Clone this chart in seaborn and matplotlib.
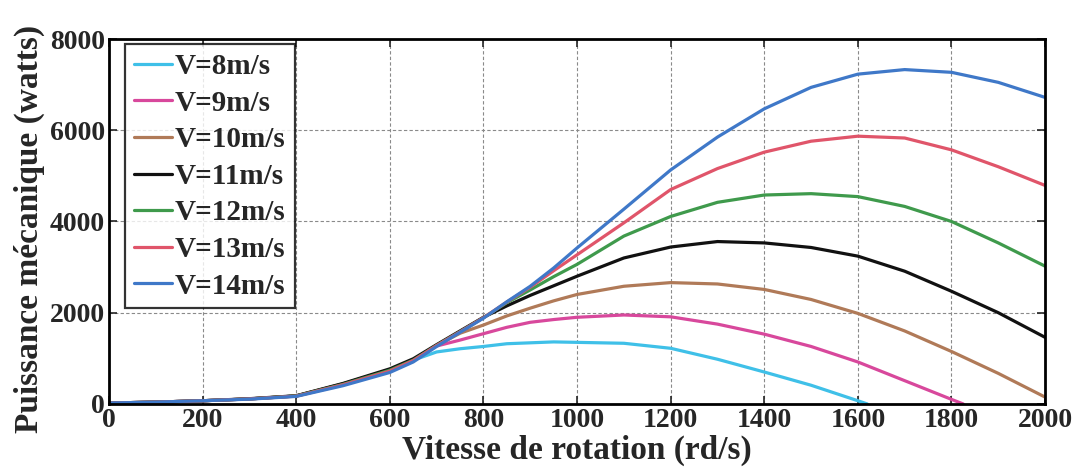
import numpy as np
import pandas as pd
import matplotlib
matplotlib.use("Agg")
import matplotlib.pyplot as plt
import seaborn as sns

# Rotor speed samples (rd/s); denser through the knee of the curves
speed = [0, 100, 200, 300, 400, 500, 600, 650, 700, 750, 800, 850, 900, 950,
         1000, 1100, 1200, 1300, 1400, 1500, 1600, 1700, 1800, 1900, 2000]

# Mechanical power (W) for each wind speed
p_v8 = [20, 40, 70, 110, 175, 430, 750, 960, 1140, 1210, 1260, 1320, 1340,
        1360, 1350, 1330, 1220, 980, 700, 410, 70, 0]
speed_v8 = speed[:21] + [1620]

p_v9 = [20, 40, 70, 110, 175, 440, 750, 970, 1270, 1400, 1540, 1680, 1790,
        1850, 1900, 1950, 1910, 1750, 1530, 1260, 920, 510, 100, 0]
speed_v9 = speed[:23] + [1825]

p_v10 = [20, 40, 70, 110, 175, 440, 750, 970, 1280, 1550, 1730, 1930, 2100,
         2260, 2400, 2580, 2660, 2630, 2510, 2290, 1985, 1600, 1150, 670, 150]
p_v11 = [20, 40, 70, 115, 180, 450, 770, 990, 1300, 1600, 1900, 2150, 2380,
         2590, 2800, 3200, 3440, 3560, 3530, 3430, 3240, 2910, 2470, 2000, 1460]
p_v12 = [20, 40, 70, 110, 175, 430, 740, 960, 1285, 1585, 1890, 2220, 2500,
         2790, 3060, 3680, 4110, 4420, 4580, 4610, 4545, 4330, 4000, 3530, 3020]
p_v13 = [20, 40, 70, 110, 170, 420, 720, 950, 1280, 1580, 1890, 2235, 2560,
         2920, 3270, 3970, 4700, 5160, 5520, 5760, 5870, 5830, 5570, 5200, 4790]
p_v14 = [20, 40, 70, 105, 165, 400, 690, 920, 1260, 1570, 1880, 2240, 2580,
         2980, 3420, 4270, 5130, 5850, 6470, 6940, 7230, 7330, 7270, 7050, 6720]

labels = ["V=8m/s", "V=9m/s", "V=10m/s", "V=11m/s",
          "V=12m/s", "V=13m/s", "V=14m/s"]
colors = ["#3fc0e8", "#d8489c", "#b07a58", "#111111",
          "#3f9a4c", "#e0556a", "#3f78c8"]

series = [(speed_v8, p_v8), (speed_v9, p_v9), (speed, p_v10), (speed, p_v11),
          (speed, p_v12), (speed, p_v13), (speed, p_v14)]

frames = []
for lab, (xs, ys) in zip(labels, series):
    frames.append(pd.DataFrame({"speed": xs, "power": ys, "curve": lab}))
df = pd.concat(frames, ignore_index=True)

sns.set_style("ticks")
plt.rcParams["font.family"] = ["Liberation Serif", "DejaVu Serif"]
plt.rcParams["font.weight"] = "bold"

fig = plt.figure(figsize=(10.73, 4.73), dpi=100)
ax = fig.add_axes([0.1016, 0.146, 0.8724, 0.7715])

sns.lineplot(data=df, x="speed", y="power", hue="curve", hue_order=labels,
             palette=colors, linewidth=2.3, ax=ax, sort=False,
             estimator=None, legend=True)

ax.set_xlim(0, 2000)
ax.set_ylim(0, 8000)
ax.set_xticks(np.arange(0, 2001, 200))
ax.set_yticks(np.arange(0, 8001, 2000))
ax.grid(True, color="#8a8a8a", linestyle=(0, (3, 2)), linewidth=0.8)
ax.tick_params(direction="in", top=True, right=True, length=6, width=1.2,
               labelsize=20)
ax.tick_params(axis="x", pad=3)
ax.tick_params(axis="y", pad=3)
for lbl in ax.get_xticklabels() + ax.get_yticklabels():
    lbl.set_fontweight("bold")
for sp in ax.spines.values():
    sp.set_linewidth(2.0)
    sp.set_color("black")

ax.set_xlabel("Vitesse de rotation (rd/s)", fontsize=24, fontweight="bold")
ax.xaxis.set_label_coords(0.5, -0.085)
ax.xaxis.label.set_va("top")
ax.set_ylabel("Puissance mécanique (watts)", fontsize=24, fontweight="bold")
ax.yaxis.set_label_coords(-0.068, 0.48)

leg = ax.legend(loc="upper left", bbox_to_anchor=(0.017, 0.986), fontsize=21,
                frameon=True, fancybox=False, handlelength=1.3,
                handletextpad=0.12, labelspacing=0.33, borderpad=0.3,
                borderaxespad=0.0)
leg.get_frame().set_edgecolor("black")
leg.get_frame().set_linewidth(1.6)
for t in leg.get_texts():
    t.set_fontweight("bold")

fig.savefig("out.png", dpi=100)
